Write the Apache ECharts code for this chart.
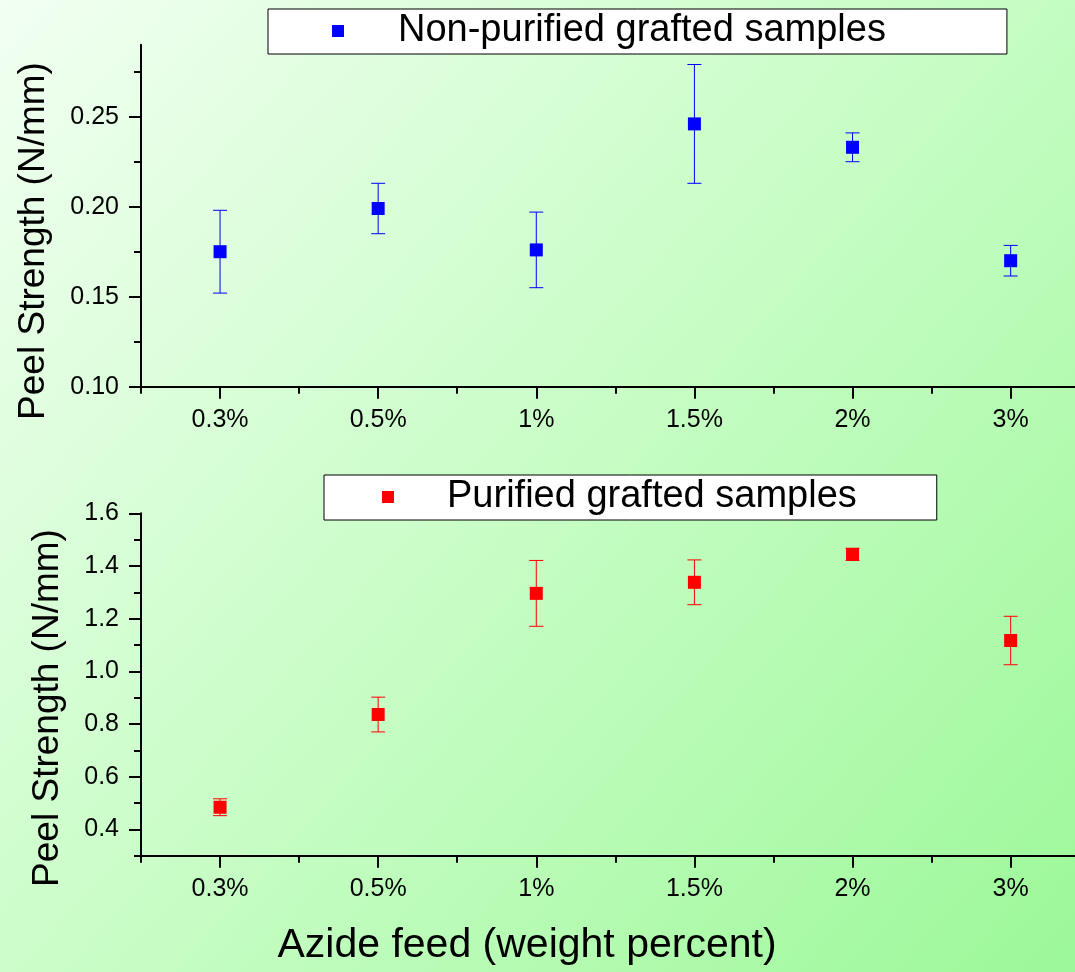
<!DOCTYPE html>
<html>
<head>
<meta charset="utf-8">
<style>
  html, body { margin: 0; padding: 0; }
  #chart { width: 1075px; height: 972px; }
</style>
<script src="https://cdn.jsdelivr.net/npm/echarts@6/dist/echarts.min.js"></script>
</head>
<body>
<div id="chart"></div>
<script>
// Azide feed levels (weight percent)
const categories = ['0.3%', '0.5%', '1%', '1.5%', '2%', '3%'];

// Peel strength (N/mm) and error bar half-widths
const nonPurifiedMean = [0.175, 0.199, 0.176, 0.246, 0.233, 0.170];
const nonPurifiedErr  = [0.023, 0.014, 0.021, 0.033, 0.008, 0.0085];
const purifiedMean    = [0.484, 0.836, 1.296, 1.338, 1.444, 1.117];
const purifiedErr     = [0.032, 0.066, 0.125, 0.085, 0.023, 0.092];

// Axis ticks
const topMajorY    = [0.10, 0.15, 0.20, 0.25];
const topMinorY    = [0.125, 0.175, 0.225, 0.275];
const bottomMajorY = [0.4, 0.6, 0.8, 1.0, 1.2, 1.4, 1.6];
const bottomMinorY = [0.3, 0.5, 0.7, 0.9, 1.1, 1.3, 1.5];

const FONT = 'Liberation Sans, Arial, sans-serif';
const catPos = categories.map((c, i) => i + 1);
const catMinor = [0.5, 1.5, 2.5, 3.5, 4.5, 5.5];
// the category axis runs off the right edge of the canvas
const X_MIN = 0.5, X_MAX = 6.407;

function pts(means, errs) {
  return means.map((m, i) => [i + 1, m, errs[i]]);
}

function xAxes(gridIndex) {
  const base = {
    type: 'value', gridIndex, min: X_MIN, max: X_MAX, position: 'bottom',
    splitLine: { show: false }
  };
  return [
    Object.assign({}, base, {
      axisLine: { show: true, onZero: false, lineStyle: { color: '#000', width: 2 } },
      axisTick: { show: true, customValues: catPos, length: 12, lineStyle: { color: '#000', width: 2 } },
      axisLabel: {
        customValues: catPos, margin: 21, color: '#000', fontSize: 25, fontFamily: FONT,
        formatter: v => categories[Math.round(v) - 1]
      }
    }),
    Object.assign({}, base, {
      axisLine: { show: false, onZero: false },
      axisTick: { show: true, customValues: catMinor, length: 7, lineStyle: { color: '#000', width: 2 } },
      axisLabel: { show: false }
    })
  ];
}

function yAxes(gridIndex, min, max, major, minor, digits) {
  const base = { type: 'value', gridIndex, min, max, position: 'left', splitLine: { show: false } };
  return [
    Object.assign({}, base, {
      axisLine: { show: true, onZero: false, lineStyle: { color: '#000', width: 2 } },
      axisTick: { show: true, customValues: major, length: 12, lineStyle: { color: '#000', width: 2 } },
      axisLabel: {
        customValues: major, margin: 22, color: '#000', fontSize: 25, fontFamily: FONT,
        formatter: v => v.toFixed(digits)
      }
    }),
    Object.assign({}, base, {
      axisLine: { show: false, onZero: false },
      axisTick: { show: true, customValues: minor, length: 7, lineStyle: { color: '#000', width: 2 } },
      axisLabel: { show: false }
    })
  ];
}

function errorBars(data, color, xIdx, yIdx) {
  return {
    type: 'custom',
    xAxisIndex: xIdx, yAxisIndex: yIdx,
    data,
    encode: { x: 0, y: 1 },
    z: 1,
    silent: true,
    renderItem(params, api) {
      const x = api.value(0), v = api.value(1), e = api.value(2);
      const hi = api.coord([x, v + e]);
      const lo = api.coord([x, v - e]);
      const hw = 7;
      const style = { stroke: color, lineWidth: 1 };
      return {
        type: 'group',
        children: [
          { type: 'line', shape: { x1: hi[0], y1: hi[1], x2: lo[0], y2: lo[1] }, style },
          { type: 'line', shape: { x1: hi[0] - hw, y1: hi[1], x2: hi[0] + hw, y2: hi[1] }, style },
          { type: 'line', shape: { x1: lo[0] - hw, y1: lo[1], x2: lo[0] + hw, y2: lo[1] }, style }
        ]
      };
    }
  };
}

const legendBase = {
  icon: 'rect', itemWidth: 12, itemHeight: 12,
  backgroundColor: '#fff', borderColor: '#000', borderWidth: 1,
  selectedMode: false
};

const option = {
  animation: false,
  backgroundColor: {
    type: 'linear', x: 0, y: 0, x2: 1, y2: 1,
    colorStops: [
      { offset: 0, color: '#f2fff2' },
      { offset: 0.5, color: '#c8fdc6' },
      { offset: 1, color: '#9cf898' }
    ]
  },
  grid: [
    { left: 141, top: 44.7, height: 342, right: 0 },
    { left: 141, top: 513.3, height: 342.4, right: 0 }
  ],
  xAxis: [].concat(xAxes(0), xAxes(1)),
  yAxis: [].concat(
    yAxes(0, 0.10, 0.29, topMajorY, topMinorY, 2),
    yAxes(1, 0.3, 1.6, bottomMajorY, bottomMinorY, 1)
  ),
  legend: [
    Object.assign({}, legendBase, {
      data: ['Non-purified grafted samples'],
      left: 268, top: 9,
      padding: [3, 121, 4, 64],
      textStyle: { fontSize: 38, lineHeight: 38, fontFamily: FONT, color: '#000', padding: [0, 0, 0, 49] }
    }),
    Object.assign({}, legendBase, {
      data: ['Purified grafted samples'],
      left: 324, top: 475,
      padding: [3, 80, 4, 58],
      textStyle: { fontSize: 38, lineHeight: 38, fontFamily: FONT, color: '#000', padding: [0, 0, 0, 48] }
    })
  ],
  graphic: [
    {
      type: 'text', x: 34, y: 241, rotation: Math.PI / 2,
      style: { text: 'Peel Strength (N/mm)', font: '37px ' + FONT, fill: '#000', align: 'center', verticalAlign: 'middle' }
    },
    {
      type: 'text', x: 48, y: 708, rotation: Math.PI / 2,
      style: { text: 'Peel Strength (N/mm)', font: '37px ' + FONT, fill: '#000', align: 'center', verticalAlign: 'middle' }
    },
    {
      type: 'text', x: 527, y: 946,
      style: { text: 'Azide feed (weight percent)', font: '41px ' + FONT, fill: '#000', align: 'center', verticalAlign: 'middle' }
    }
  ],
  series: [
    errorBars(pts(nonPurifiedMean, nonPurifiedErr), '#0000ff', 0, 0),
    {
      name: 'Non-purified grafted samples',
      type: 'scatter', xAxisIndex: 0, yAxisIndex: 0,
      symbol: 'rect', symbolSize: 13, z: 3,
      itemStyle: { color: '#0000ff', opacity: 1 },
      data: nonPurifiedMean.map((m, i) => [i + 1, m])
    },
    errorBars(pts(purifiedMean, purifiedErr), '#ff0000', 2, 2),
    {
      name: 'Purified grafted samples',
      type: 'scatter', xAxisIndex: 2, yAxisIndex: 2,
      symbol: 'rect', symbolSize: 13, z: 3,
      itemStyle: { color: '#ff0000', opacity: 1 },
      data: purifiedMean.map((m, i) => [i + 1, m])
    }
  ]
};

const chart = echarts.init(document.getElementById('chart'), null, { renderer: 'canvas' });
chart.setOption(option);
</script>
</body>
</html>
